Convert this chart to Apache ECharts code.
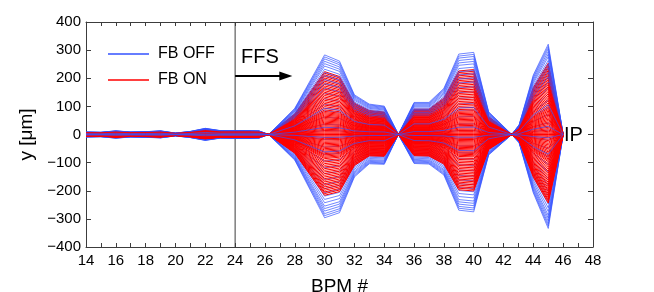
<!DOCTYPE html>
<html>
<head>
<meta charset="utf-8">
<script src="https://cdn.jsdelivr.net/npm/echarts@6/dist/echarts.min.js"></script>
<style>
html,body{margin:0;padding:0;background:#fff;}
#c{width:654px;height:292px;}
</style>
</head>
<body>
<div id="c"></div>
<script>
// BPM positions (x) of the orbit readings
const bpm = [14,15,16,17,18,19,20,21,22,23,24,25,25.6,26.25,28,30,31,32,33,34,34.95,36,37,38,39,40,41,42.55,43.05,44,45,46];
// outer envelope of the FB OFF orbits (upper and lower), in um
const envUpper = [9,8,13,9,10,13,5,11,22,14,14,14,13,0,93,283,261,141,108,101,0,114,114,164,286,292,81,0,35,212,321,0];
const envLower = [-9,-8,-13,-9,-10,-12,-5,-11,-21,-13,-14,-14,-13,0,-91,-296,-278,-151,-104,-106,0,-103,-105,-144,-269,-275,-73,0,-30,-208,-334,0];
// relative amplitude of each recorded orbit against the envelope
const offAmp = [1.00,0.975,0.95,0.92,0.89,0.86,0.82,0.78,0.74,0.69,0.64,0.58,0.52,0.45,0.38,0.30,0.22,0.13,0.05,
  -1.00,-0.975,-0.95,-0.92,-0.89,-0.86,-0.82,-0.78,-0.74,-0.70,-0.65,-0.60,-0.54,-0.47,-0.40,-0.32,-0.24,-0.15,-0.06];
const onAmp = [0.79,0.77,0.75,0.73,0.71,0.69,0.67,0.65,0.63,0.61,0.59,0.57,0.55,0.53,0.51,0.49,0.47,0.45,0.43,0.41,0.39,0.37,0.35,0.33,0.31,0.29,
  0.275,0.26,0.245,0.23,0.215,0.20,0.185,0.17,0.155,0.14,0.125,0.11,0.095,0.08,0.065,0.05,0.035,0.02,0.008,0.0,
  -0.73,-0.71,-0.69,-0.67,-0.65,-0.63,-0.61,-0.59,-0.57,-0.55,-0.53,-0.51,-0.49,-0.47,-0.45,-0.43,-0.41,-0.39,-0.37,-0.35,-0.33,-0.31,-0.29,
  -0.275,-0.26,-0.245,-0.23,-0.215,-0.20,-0.185,-0.17,-0.155,-0.14,-0.125,-0.11,-0.095,-0.08,-0.065,-0.05,-0.035,-0.02,-0.008];
// a few FB OFF orbits that show through on top of the FB ON band
const offAmpTop = [0.09,-0.035,-0.21,0.33];
const xTicks = [14,16,18,20,22,24,26,28,30,32,34,36,38,40,42,44,46,48];
const yTicks = [-400,-300,-200,-100,0,100,200,300,400];

const FONT = 'Liberation Sans, Arial, Helvetica, sans-serif';
const AX = '#3c3c3c';
const BLUE = '#3352ff';
const RED = '#ff0000';

function orbit(a){
  return bpm.map((x,i)=>[x, a>=0 ? a*envUpper[i] : (-a)*envLower[i]]);
}
function offSeries(a){
  return {type:'line',name:'FB OFF',data:orbit(a),symbol:'none',silent:true,z:2,
    color:BLUE,itemStyle:{color:BLUE},lineStyle:{color:BLUE,width:0.7},animation:false};
}
function onSeries(a){
  return {type:'line',name:'FB ON',data:orbit(a),symbol:'none',silent:true,z:2,
    color:RED,itemStyle:{color:RED},lineStyle:{color:RED,width:1},animation:false};
}

const series = [];
series.push({
  type:'line', name:'ref', data:[[24,-400],[24,400]], symbol:'none', silent:true, z:1,
  color:AX, lineStyle:{color:AX,width:1}, animation:false,
  markLine:{
    silent:true, symbol:['none','triangle'], symbolSize:[9,13], animation:false,
    label:{show:false},
    lineStyle:{color:'#000',width:2,type:'solid'},
    data:[[{coord:[24,208]},{coord:[27.4,208]}]]
  }
});
const n = Math.max(offAmp.length, onAmp.length);
for(let i=0;i<n;i++){
  if(i<offAmp.length) series.push(offSeries(offAmp[i]));
  if(i<onAmp.length) series.push(onSeries(onAmp[i]));
}
offAmpTop.forEach(a=>series.push(offSeries(a)));

function axisCfg(extra, tickLen){
  return Object.assign({
    axisLine:{show:true,onZero:false,lineStyle:{color:AX,width:1}},
    axisTick:{show:true,inside:true,length:tickLen,lineStyle:{color:AX,width:1}},
    splitLine:{show:false}
  }, extra);
}

const chart = echarts.init(document.getElementById('c'));
chart.setOption({
  animation:false,
  backgroundColor:'#fff',
  grid:{left:86,right:61,top:22,bottom:45,containLabel:false,outerBoundsMode:'none'},
  legend:{
    data:[{name:'FB OFF',icon:'rect',itemStyle:{color:BLUE}},{name:'FB ON',icon:'rect',itemStyle:{color:RED}}],
    orient:'vertical', left:103, top:41,
    itemWidth:41, itemHeight:1.5, itemGap:10,
    textStyle:{fontFamily:FONT,fontSize:16,color:'#000',padding:[0,0,0,4]},
    selectedMode:false
  },
  xAxis:[
    axisCfg({type:'value',min:14,max:48,interval:1,position:'bottom',
      name:'BPM #',nameLocation:'middle',nameGap:30,
      nameTextStyle:{fontFamily:FONT,fontSize:19,color:'#000'},
      axisLabel:{fontFamily:FONT,fontSize:15,color:'#000',margin:6,
        formatter:v=> xTicks.indexOf(v)>=0 ? String(v) : ''}}, 4),
    axisCfg({type:'value',min:14,max:48,interval:1,position:'top',axisLabel:{show:false}}, 4)
  ],
  yAxis:[
    axisCfg({type:'value',min:-400,max:400,interval:100,position:'left',
      name:'y [μm]',nameLocation:'middle',nameGap:41,nameRotate:90,
      nameTextStyle:{fontFamily:FONT,fontSize:19,color:'#000'},
      axisLabel:{fontFamily:FONT,fontSize:15,color:'#000',margin:5,
        formatter:v=> yTicks.indexOf(v)>=0 ? String(v).replace('-','\u2212') : ''}}, 5),
    axisCfg({type:'value',min:-400,max:400,interval:100,position:'right',axisLabel:{show:false}}, 5)
  ],
  series:series
});

const pF = chart.convertToPixel({xAxisIndex:0,yAxisIndex:0},[24.4,274]);
const pI = chart.convertToPixel({xAxisIndex:0,yAxisIndex:0},[46.05,-3]);
chart.setOption({graphic:[
  {type:'text',x:pF[0],y:pF[1],silent:true,z:100,style:{text:'FFS',fontFamily:FONT,fontSize:20,fill:'#000',verticalAlign:'middle',align:'left'}},
  {type:'text',x:pI[0],y:pI[1],silent:true,z:100,style:{text:'IP',fontFamily:FONT,fontSize:20,fill:'#000',verticalAlign:'middle',align:'left'}}
]});
</script>
</body>
</html>
